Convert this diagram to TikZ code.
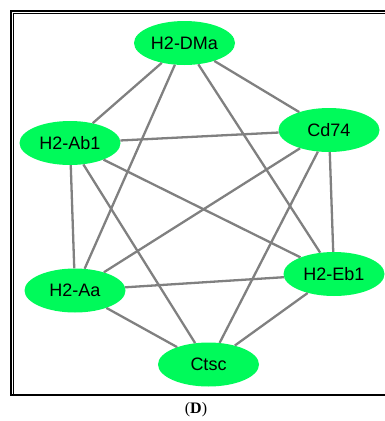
\documentclass[tikz,border=0pt]{standalone}
\usepackage{fontspec}
\setmainfont{Liberation Serif}
\newfontfamily\labelfont{Liberation Sans}
\usetikzlibrary{shapes.geometric}
\definecolor{gene}{RGB}{0,250,90}
\definecolor{link}{RGB}{128,128,128}
\tikzset{
  gene/.style={ellipse, fill=gene, draw=none, minimum width=101pt, minimum height=44pt,
    inner sep=0pt, font=\labelfont\fontsize{18}{18}\selectfont},
  link/.style={draw=link, line width=2.3pt},
  frame/.style={draw=black, line width=1.6pt}
}
\begin{document}
\begin{tikzpicture}[x=1pt, y=-1pt]
  \useasboundingbox (0,0) rectangle (385,421);
  % double frame around the network, open towards the right edge
  \draw[frame] (385,10.8) -- (10.8,10.8) -- (10.8,395.2) -- (385,395.2);
  \draw[black, line width=1pt] (385,13.6) -- (13.6,13.6) -- (13.6,394);
  % genes
  \node[gene] (dma) at (184.5,43) {H2-DMa};
  \node[gene] (ab1) at (70,143) {H2-Ab1};
  \node[gene] (cd74) at (329,130) {Cd74};
  \node[gene] (aa) at (75,290.5) {H2-Aa};
  \node[gene] (eb1) at (334,274) {H2-Eb1};
  \node[gene] (ctsc) at (208.5,364.5) {Ctsc};
  % interactions
  \foreach \a/\b in {dma/ab1, dma/aa, dma/cd74, dma/eb1,
                     ab1/cd74, ab1/aa, ab1/eb1, ab1/ctsc,
                     cd74/aa, cd74/eb1, cd74/ctsc,
                     aa/eb1, aa/ctsc, eb1/ctsc}
    \draw[link] (\a) -- (\b);
  % panel label
  \node[font=\fontsize{16}{16}\selectfont] (panel) at (196,410) {(\textbf{D})};
\end{tikzpicture}
\end{document}
